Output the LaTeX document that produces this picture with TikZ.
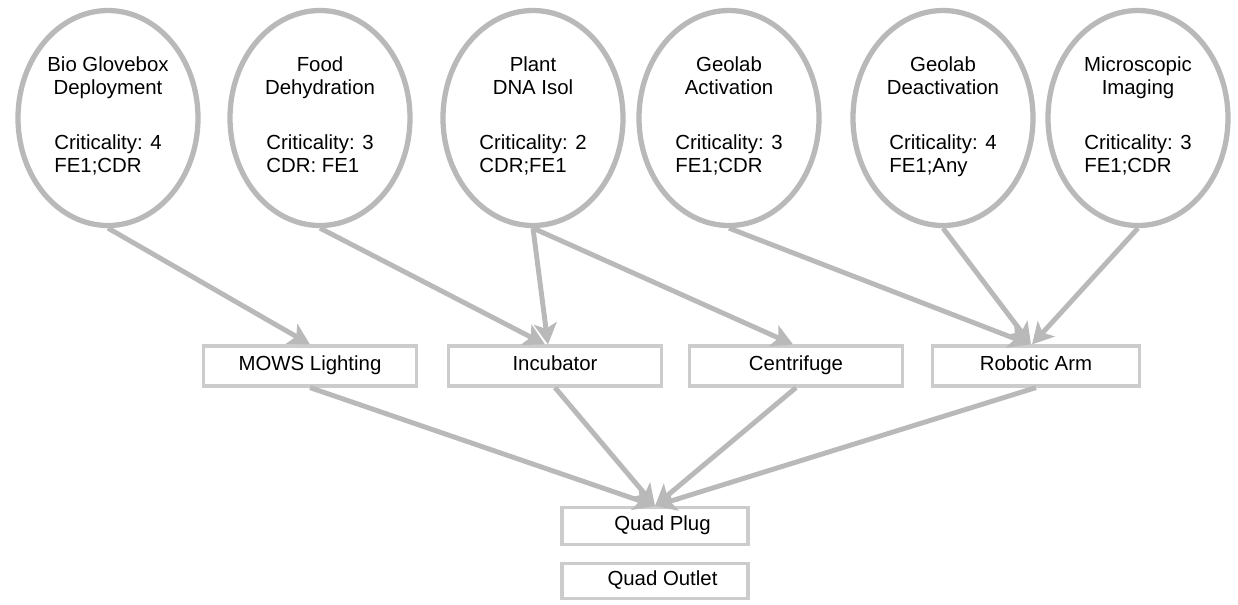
\documentclass[tikz,border=0pt]{standalone}
\usepackage{fontspec}
\setmainfont{Liberation Sans}
\usetikzlibrary{positioning, arrows.meta, shapes.geometric}

\begin{document}
\begin{tikzpicture}[node distance=4.2cm, on grid,
    task/.style={ellipse, draw=gray!55, line width=3pt, minimum width=3.6cm,
      minimum height=4.3cm, inner sep=0pt, align=center,
      font=\fontsize{11.6}{13}\selectfont},
    unit/.style={rectangle, draw=gray!40, line width=1.8pt, minimum width=4.25cm,
      minimum height=0.8cm, inner sep=0pt, text height=0.75em, text depth=0.22em,
      font=\fontsize{11.6}{13}\selectfont},
    feed/.style={every edge/.style={draw=gray!55, line width=2.8pt,
      -{Stealth[length=12pt, width=13pt, inset=3pt]}}}]
    \useasboundingbox (0,0) rectangle (24.76,-12.08);
    % activities
    \node[task] (bio) at (2.16,-2.36) {Bio Glovebox\\Deployment\\[18pt]
      \begin{tabular}[t]{@{}l@{}}Criticality: 4\\FE1;CDR\end{tabular}};
    \node[task] (food) [right=4.24cm of bio] {Food\\Dehydration\\[18pt]
      \begin{tabular}[t]{@{}l@{}}Criticality: 3\\CDR: FE1\end{tabular}};
    \node[task] (plant) [right=4.26cm of food] {Plant\\DNA Isol\\[18pt]
      \begin{tabular}[t]{@{}l@{}}Criticality: 2\\CDR;FE1\end{tabular}};
    \node[task] (geoact) [right=3.92cm of plant] {Geolab\\Activation\\[18pt]
      \begin{tabular}[t]{@{}l@{}}Criticality: 3\\FE1;CDR\end{tabular}};
    \node[task] (geodeact) [right=4.28cm of geoact] {Geolab\\Deactivation\\[18pt]
      \begin{tabular}[t]{@{}l@{}}Criticality: 4\\FE1;Any\end{tabular}};
    \node[task] (micro) [right=3.9cm of geodeact] {Microscopic\\Imaging\\[18pt]
      \begin{tabular}[t]{@{}l@{}}Criticality: 3\\FE1;CDR\end{tabular}};
    % equipment
    \node[unit] (mows) [below right=4.96cm and 4.04cm of bio] {MOWS Lighting};
    \node[unit] (incub) [right=4.9cm of mows] {Incubator};
    \node[unit] (centri) [right=4.82cm of incub] {Centrifuge};
    \node[unit, minimum width=4.15cm] (robot) [right=4.8cm of centri] {Robotic Arm};
    \node[unit, minimum width=3.72cm, minimum height=0.74cm] (qplug)
      [below right=3.2cm and 2cm of incub] {\hspace{0.3cm}Quad Plug};
    \node[unit, minimum width=3.72cm, minimum height=0.7cm] (qoutlet)
      [below=1.1cm of qplug] {\hspace{0.3cm}Quad Outlet};
    \path[feed]
    (bio.south) edge (mows.north)
    (food.south) edge ([xshift=-0.2cm]incub.north)
    (plant.south) edge ([xshift=-0.14cm]incub.north)
    (plant.south) edge ([xshift=-0.06cm]centri.north)
    (geoact.south) edge ([xshift=-0.12cm]robot.north)
    (geodeact.south) edge ([xshift=-0.1cm]robot.north)
    (micro.south) edge ([xshift=-0.08cm]robot.north)
    (mows.south) edge (qplug.north)
    (incub.south) edge (qplug.north)
    (centri.south) edge (qplug.north)
    (robot.south) edge (qplug.north);
\end{tikzpicture}
\end{document}
